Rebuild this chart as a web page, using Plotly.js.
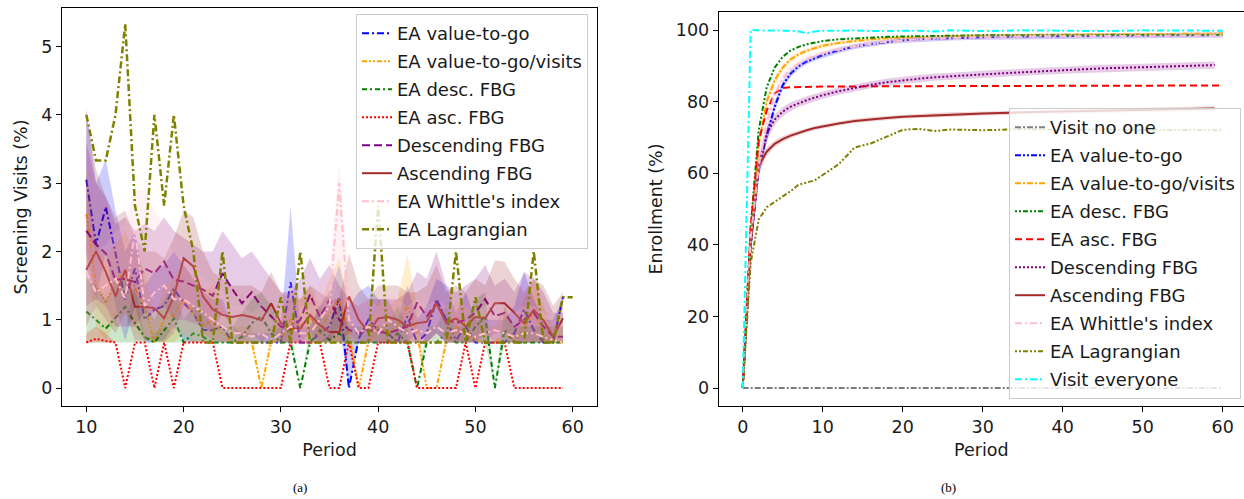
<!DOCTYPE html>
<html>
<head>
<meta charset="utf-8">
<script src="https://cdn.plot.ly/plotly-3.0.1.min.js"></script>
<style>html,body{margin:0;padding:0;background:#fff}#chart{width:1244px;height:499px}</style>
</head>
<body>
<div id="chart"></div>
<script>
// ---------- Panel (a): screening visits ----------
const periodsA = [10,11,12,13,14,15,16,17,18,19,20,21,22,23,24,25,26,27,28,29,30,31,32,33,34,35,36,37,38,39,40,41,42,43,44,45,46,47,48,49,50,51,52,53,54,55,56,57,58,59];
const periodsA60 = [10,11,12,13,14,15,16,17,18,19,20,21,22,23,24,25,26,27,28,29,30,31,32,33,34,35,36,37,38,39,40,41,42,43,44,45,46,47,48,49,50,51,52,53,54,55,56,57,58,59,60];

const vtgMean  = [3.05,2.1,2.65,1.95,1.3,1.75,1.0,1.15,1.2,1.45, 1.25,1.1,0.85,0.85,0.9,0.667,0.667,0.667,0.667,0.667, 0.667,1.55,0.667,0.667,0.8,0.9,1.33,0,0.72,1.0, 0.85,0.8,0.667,1.05,0.667,0.8,1.3,1.0,0.7,0.9, 0.667,0.667,0.667,0.667,0.8,1.15,0.85,0.667,0.667,1.33];
const vtgUpper = [4.1,3.0,3.35,2.6,2.0,2.3,1.5,1.7,1.8,2.0, 1.8,1.6,1.4,1.3,1.3,0.9,0.8,0.8,0.8,0.8, 0.9,2.65,0.9,0.9,1.2,1.4,1.8,1.2,1.4,1.5, 1.3,1.3,1.0,1.5,1.0,1.2,1.6,1.5,1.1,1.4, 1.0,1.0,1.0,1.0,1.2,1.7,1.3,1.0,1.0,1.33];
const vtgLower = [2.0,1.3,2.0,1.2,0.7,1.2,0.667,0.667,0.7,0.9, 0.7,0.667,0.667,0.667,0.667,0.667,0.667,0.667,0.667,0.667, 0.667,0.667,0.667,0.667,0.667,0.667,0.9,0,0.667,0.667, 0.667,0.667,0.667,0.667,0.667,0.667,0.8,0.667,0.667,0.667, 0.667,0.667,0.667,0.667,0.667,0.667,0.667,0.667,0.667,1.33];

const vtvMean  = [2.55,1.5,1.25,1.55,1.72,1.45,1.2,0.667,1.0,1.07, 1.3,1.1,0.9,1.0,0.8,0.667,0.667,0.667,0,0.667, 0.7,1.0,0.9,1.05,0.8,1.1,1.3,0.8,0,0.667, 0.9,0.8,0.9,1.2,0.8,0,0,0.667,0.9,0.8, 0.7,0.667,0.667,0.8,0.667,0.9,1.1,0.8,0.667,0.667];
const vtvUpper = [3.2,2.1,1.9,2.1,2.3,2.0,1.7,1.0,1.5,1.6, 1.8,1.6,1.4,1.5,1.2,0.9,0.9,0.9,0,0.9, 1.0,1.5,1.3,1.5,1.2,1.6,1.9,1.2,0,0.9, 1.3,1.2,1.3,1.95,1.2,0,0,0.9,1.3,1.2, 1.0,0.9,0.9,1.2,0.9,1.3,1.6,1.2,0.9,0.9];
const vtvLower = [1.9,0.9,0.7,1.0,1.1,0.9,0.7,0.667,0.667,0.667, 0.8,0.667,0.667,0.667,0.667,0.667,0.667,0.667,0,0.667, 0.667,0.667,0.667,0.667,0.667,0.667,0.667,0.667,0,0.667, 0.667,0.667,0.667,0.667,0.667,0,0,0.667,0.667,0.667, 0.667,0.667,0.667,0.667,0.667,0.667,0.667,0.667,0.667,0.667];

const eadMean  = [1.12,1.0,0.87,1.03,1.19,0.95,0.75,0.667,0.85,1.02, 0.667,0.8,0.75,0.667,0.667,0.667,0.75,0.95,1.05,0.8, 0.667,0.667,0,0.667,0.85,0.7,0.8,0.667,0.667,0.667, 0.667,0.667,0.8,0.667,0,0.667,0.667,0.8,0.667,0.667, 0.9,1.05,0,0.85,0.667,0.667,0.667,0.667,0.667,0.667];
const eadUpper = [1.6,1.5,1.3,1.5,1.6,1.4,1.2,1.0,1.3,1.5, 1.0,1.2,1.1,0.9,0.9,0.9,1.1,1.3,1.4,1.2, 0.9,0.9,0,0.9,1.2,1.0,1.2,0.9,0.9,0.9, 0.9,0.9,1.2,0.9,0,0.9,0.9,1.2,0.9,0.9, 1.3,1.4,0,1.2,0.9,0.9,0.9,0.9,0.9,0.9];
const eadLower = [0.667,0.667,0.667,0.667,0.667,0.667,0.667,0.667,0.667,0.667, 0.667,0.667,0.667,0.667,0.667,0.667,0.667,0.667,0.667,0.667, 0.667,0.667,0,0.667,0.667,0.667,0.667,0.667,0.667,0.667, 0.667,0.667,0.667,0.667,0,0.667,0.667,0.667,0.667,0.667, 0.667,0.667,0,0.667,0.667,0.667,0.667,0.667,0.667,0.667];

const eaaMean  = [0.667,0.72,0.69,0.667,0,0.667,0.667,0,0.667,0, 0.667,0.667,0.667,0.667,0,0,0,0,0,0, 0,0.667,0.667,0.667,0.667,0,0,0.667,0,0, 0.667,0.667,0.667,0.667,0,0,0,0,0,0.667, 0,0.667,0.667,0.667,0,0,0,0,0,0];
const eaaUpper = [0.8,0.9,0.8,0.667,0,0.667,0.667,0,0.667,0, 0.667,0.667,0.667,0.667,0,0,0,0,0,0, 0,0.667,0.667,0.667,0.667,0,0,0.667,0,0, 0.667,0.667,0.667,0.667,0,0,0,0,0,0.667, 0,0.667,0.667,0.667,0,0,0,0,0,0];
const eaaLower = [0.667,0.667,0.667,0.667,0,0.667,0.667,0,0.667,0, 0.667,0.667,0.667,0.667,0,0,0,0,0,0, 0,0.667,0.667,0.667,0.667,0,0,0.667,0,0, 0.667,0.667,0.667,0.667,0,0,0,0,0,0.667, 0,0.667,0.667,0.667,0,0,0,0,0,0];

const descMean  = [2.3,2.1,1.97,1.58,1.6,1.55,1.75,1.68,1.85,1.58, 1.56,1.5,1.44,1.35,1.68,1.45,1.24,1.4,1.19,1.05, 0.9,0.85,1.0,1.37,1.04,1.29,1.0,0.85,0.8,0.85, 0.82,0.8,0.85,0.9,1.25,1.05,1.25,1.0,0.95,1.0, 1.1,1.3,1.05,1.1,0.9,1.0,1.1,0.9,0.75,0.75];
const descUpper = [3.6,3.0,2.8,2.4,2.5,2.3,2.4,2.3,2.5,2.3, 2.2,2.1,2.0,2.0,2.3,2.1,1.9,2.0,1.8,1.6, 1.4,1.4,1.6,1.9,1.6,1.8,1.5,1.3,1.2,1.3, 1.3,1.3,1.3,1.4,1.7,1.6,2.0,1.5,1.4,1.5, 1.6,1.8,1.5,1.6,1.4,1.7,1.6,1.4,1.1,1.1];
const descLower = [1.2,1.3,1.2,0.9,0.9,0.9,1.1,1.1,1.2,1.0, 1.0,0.95,0.9,0.8,1.1,0.9,0.7,0.8,0.667,0.667, 0.667,0.667,0.667,0.8,0.667,0.7,0.667,0.667,0.667,0.667, 0.667,0.667,0.667,0.667,0.8,0.667,0.8,0.667,0.667,0.667, 0.667,0.8,0.667,0.667,0.667,0.667,0.667,0.667,0.667,0.667];

const ascMean  = [1.73,2.0,1.7,1.34,1.73,1.19,1.19,1.17,1.02,1.34, 1.9,1.78,1.34,1.15,1.07,1.04,1.07,1.04,0.99,1.24, 0.95,0.87,0.87,1.07,0.92,0.82,0.82,1.34,1.0,0.82, 1.02,1.04,1.0,0.9,0.95,0.97,1.24,0.95,1.02,0.9, 1.04,1.02,1.24,1.24,1.1,0.95,1.14,0.99,0.75,1.02];
const ascUpper = [4.0,3.2,2.8,2.5,2.6,2.2,2.0,2.0,1.9,2.2, 2.6,2.5,2.0,1.7,1.6,1.5,1.5,1.5,1.4,1.7, 1.4,1.3,1.3,1.5,1.4,1.3,1.3,1.97,1.5,1.3, 1.5,1.5,1.5,1.4,1.4,1.5,1.8,1.4,1.5,1.4, 1.6,1.5,1.87,1.85,1.6,1.4,1.6,1.5,1.2,1.4];
const ascLower = [0.9,1.2,1.0,0.8,1.1,0.7,0.7,0.7,0.667,0.8, 1.2,1.1,0.8,0.7,0.667,0.667,0.667,0.667,0.667,0.8, 0.667,0.667,0.667,0.667,0.667,0.667,0.667,0.8,0.667,0.667, 0.667,0.667,0.667,0.667,0.667,0.667,0.8,0.667,0.667,0.667, 0.667,0.667,0.8,0.8,0.667,0.667,0.667,0.667,0.667,0.667];

const whitMean  = [1.7,1.4,1.5,1.6,1.3,2.3,1.2,1.4,1.5,1.3, 1.3,1.2,1.1,1.0,0.9,0.8,0.8,0.75,0.8,0.7, 0.8,0.9,0.8,0.8,1.0,1.2,3.0,1.0,0.8,0.9, 0.8,1.0,0.9,0.8,0.85,0.8,0.9,0.8,0.85,0.8, 0.75,0.8,0.85,0.8,0.75,0.8,0.8,0.75,0.7,0.667];
const whitUpper = [2.3,2.0,2.1,2.3,2.4,2.9,2.9,2.6,2.4,2.0, 1.9,1.8,1.6,1.5,1.4,1.2,1.2,1.1,1.2,1.0, 1.2,1.6,1.2,1.2,1.5,1.7,3.3,1.5,1.2,1.3, 1.2,1.4,1.3,1.2,1.3,1.2,1.3,1.2,1.3,1.2, 1.1,1.2,1.3,1.2,1.1,1.2,1.2,1.1,1.0,0.9];
const whitLower = [1.1,0.9,0.9,1.0,0.8,1.6,0.7,0.8,0.9,0.8, 0.8,0.7,0.667,0.667,0.667,0.667,0.667,0.667,0.667,0.667, 0.667,0.667,0.667,0.667,0.667,0.8,1.8,0.667,0.667,0.667, 0.667,0.667,0.667,0.667,0.667,0.667,0.667,0.667,0.667,0.667, 0.667,0.667,0.667,0.667,0.667,0.667,0.667,0.667,0.667,0.667];

const lagMean = [4.0,3.33,3.33,4.0,5.33,2.67,2.0,4.0,2.67,4.0, 2.67,2.0,0.667,0.667,2.0,0.667,0.667,0.667,0.667,0.667, 1.33,0.667,2.0,0.667,0.667,0.667,0.667,0.667,0.667,0.667, 2.67,0.667,0.667,0.667,0.667,0.667,0.667,0.667,2.0,0.667, 1.33,0.667,0.667,0.667,0.667,0.667,2.0,0.667,0.667,1.33,1.33];

// ---------- Panel (b): enrollment ----------
const periodsB   = [0,1,2,3,4,5,6,7,8,9,10,12,14,16,18,20,22,24,26,28,30,35,40,45,50,55,60];
const periodsB59 = [0,1,2,3,4,5,6,7,8,9,10,12,14,16,18,20,22,24,26,28,30,35,40,45,50,55,59];

const noneEnr  = [0,0,0,0,0,0,0,0,0,0,0,0,0,0,0,0,0,0,0,0,0,0,0,0,0,0,0];
const vtgEnr   = [0,40,61,70.5,78.6,84.6,87.9,89.9,91.2,92.2,93.0,94.3,95.4,96.1,96.7,97.1,97.4,97.6,97.8,97.9,98.0,98.2,98.3,98.4,98.5,98.5,98.6];
const vtgSpr   = [0,3,2.5,2,1.5,1.2,1.0,0.9,0.8,0.8,0.8,0.8,0.7,0.7,0.7,0.7,0.7,0.7,0.7,0.7,0.7,0.7,0.7,0.7,0.7,0.7,0.7];
const vtvEnr   = [0,42,68,80,86,89.5,91.8,93.2,94.2,95.0,95.6,96.4,97.0,97.4,97.7,97.9,98.1,98.2,98.3,98.4,98.5,98.6,98.7,98.8,98.9,99.0,99.0];
const vtvSpr   = [0,2.5,2,1.5,1.2,1.0,0.8,0.7,0.6,0.6,0.6,0.5,0.5,0.5,0.5,0.5,0.4,0.4,0.4,0.4,0.4,0.4,0.4,0.4,0.4,0.4,0.4];
const eadEnr   = [0,45,72,84,89.5,92.5,94.3,95.3,96.0,96.5,96.9,97.4,97.7,97.9,98.1,98.2,98.3,98.4,98.4,98.5,98.5,98.5,98.6,98.6,98.6,98.6,98.6];
const eaaEnr   = [0,45,69,77.5,82.3,83.8,84.0,84.1,84.1,84.2,84.2,84.2,84.3,84.3,84.3,84.3,84.3,84.3,84.4,84.4,84.4,84.4,84.4,84.5,84.5,84.5,84.5];
const descEnr  = [0,40,62,71,75,77.2,78.6,79.6,80.4,81.1,81.8,82.9,83.9,84.7,85.4,86.0,86.4,86.8,87.1,87.4,87.6,88.2,88.8,89.3,89.6,89.9,90.2];
const descSpr  = [0,3,2.5,2,1.5,1.3,1.2,1.1,1.1,1.0,1.0,1.0,1.0,1.0,1.0,1.0,1.0,1.0,1.0,1.0,1.0,1.0,1.0,1.0,1.0,1.0,1.0];
const ascEnr   = [0,40,62,66,68.2,69.5,70.5,71.3,72.0,72.6,73.1,73.9,74.6,75.1,75.4,75.8,76.0,76.2,76.4,76.5,76.7,77.0,77.2,77.4,77.6,77.8,78.1];
const ascSpr   = [0,3,2,1.2,0.9,0.8,0.7,0.6,0.6,0.6,0.6,0.6,0.6,0.6,0.6,0.6,0.6,0.6,0.6,0.6,0.6,0.6,0.6,0.6,0.6,0.6,0.6];
const whitEnr  = [0,42,62,74,82,86.5,89.0,90.7,91.9,92.8,93.5,94.6,95.5,96.2,96.7,97.1,97.4,97.6,97.8,97.9,98.0,98.2,98.3,98.4,98.4,98.5,98.5];
const whitSpr  = [0,3,2.5,2,1.6,1.3,1.1,1.0,0.9,0.8,0.8,0.8,0.7,0.7,0.7,0.7,0.7,0.7,0.7,0.7,0.7,0.7,0.7,0.7,0.7,0.7,0.7];
const lagEnr   = [0,35,47,50.5,52,53.5,55,56.8,57.5,58,59.5,62.5,67.2,68.3,70.2,72.1,72.4,71.8,72.2,72.1,72.0,72.3,72.1,72.2,72.0,72.1,72.0];
const allEnr   = [0,100,99.9,99.9,99.9,99.8,99.8,99.6,99.1,99.6,99.8,99.8,99.9,99.7,99.8,99.9,99.8,99.6,99.9,99.8,99.7,99.9,99.8,99.7,99.9,99.8,99.8];

// ---------- helpers ----------
function rgba(hex, a) {
  const n = parseInt(hex.slice(1), 16);
  return 'rgba(' + ((n >> 16) & 255) + ',' + ((n >> 8) & 255) + ',' + (n & 255) + ',' + a + ')';
}
function band(xs, up, lo, color, xa, ya) {
  return {
    x: xs.concat(xs.slice().reverse()),
    y: up.concat(lo.slice().reverse()),
    xaxis: xa, yaxis: ya, type: 'scatter', mode: 'lines',
    fill: 'toself', fillcolor: rgba(color, 0.2), line: {width: 0},
    hoverinfo: 'skip', showlegend: false
  };
}
function line(xs, ys, name, color, dash, xa, ya, leg, width) {
  return {
    x: xs, y: ys, name: name, xaxis: xa, yaxis: ya, type: 'scatter', mode: 'lines',
    line: {color: color, dash: dash, width: width || 2},
    legend: leg, legendgroup: leg + name, showlegend: true
  };
}
function plusMinus(m, s, sign) { return m.map((v, i) => v + sign * s[i]); }

const C = {blue:'#0000ff', orange:'#ffa500', green:'#008000', red:'#ff0000', purple:'#800080',
           brown:'#a52a2a', pink:'#ffc0cb', olive:'#808000', cyan:'#00ffff', gray:'#808080'};

const traces = [];
// Panel (a)
const seriesA = [
  ['EA value-to-go', vtgMean, vtgUpper, vtgLower, C.blue, '7px,3px,2px,3px'],
  ['EA value-to-go/visits', vtvMean, vtvUpper, vtvLower, C.orange, '5px,2px,2px,2px,2px,2px'],
  ['EA desc. FBG', eadMean, eadUpper, eadLower, C.green, '5px,3px,2px,3px'],
  ['EA asc. FBG', eaaMean, eaaUpper, eaaLower, C.red, '2px,2px'],
  ['Descending FBG', descMean, descUpper, descLower, C.purple, '8px,4px'],
  ['Ascending FBG', ascMean, ascUpper, ascLower, C.brown, 'solid'],
  ["EA Whittle's index", whitMean, whitUpper, whitLower, C.pink, '7px,3px,2px,3px']
];
seriesA.forEach(s => {
  traces.push(band(periodsA, s[2], s[3], s[4], 'x', 'y'));
  traces.push(line(periodsA, s[1], s[0], s[4], s[5], 'x', 'y', 'legend'));
});
traces.push(line(periodsA60, lagMean, 'EA Lagrangian', C.olive, '7px,3px,2px,3px', 'x', 'y', 'legend', 2.5));

// Panel (b)
traces.push(line(periodsB, noneEnr, 'Visit no one', C.gray, '6px,2px,2px,2px', 'x2', 'y2', 'legend2'));
const seriesB = [
  ['EA value-to-go', periodsB, vtgEnr, vtgSpr, C.blue, '6px,2px,2px,2px,2px,2px'],
  ['EA value-to-go/visits', periodsB, vtvEnr, vtvSpr, C.orange, '6px,2px,2px,2px'],
  ['EA desc. FBG', periodsB, eadEnr, null, C.green, '2px,2px,2px,2px,5px,2px'],
  ['EA asc. FBG', periodsB, eaaEnr, null, C.red, '7px,4px'],
  ['Descending FBG', periodsB59, descEnr, descSpr, C.purple, '2px,2px'],
  ['Ascending FBG', periodsB59, ascEnr, ascSpr, C.brown, 'solid'],
  ["EA Whittle's index", periodsB, whitEnr, whitSpr, C.pink, '7px,3px,2px,3px'],
  ['EA Lagrangian', periodsB, lagEnr, null, C.olive, '2px,2px,2px,2px,5px,2px'],
  ['Visit everyone', periodsB, allEnr, null, C.cyan, '7px,3px,2px,3px']
];
seriesB.forEach(s => {
  if (s[3]) traces.push(band(s[1], plusMinus(s[2], s[3], 1), plusMinus(s[2], s[3], -1), s[4], 'x2', 'y2'));
  traces.push(line(s[1], s[2], s[0], s[4], s[5], 'x2', 'y2', 'legend2'));
});

const W = 1244, H = 499;
const font = {family: 'DejaVu Sans', size: 18, color: '#1a1a1a'};
const tfont = {family: 'DejaVu Sans', size: 17.5, color: '#1a1a1a'};
const axisCommon = {
  showline: true, linecolor: '#000', linewidth: 1, mirror: true,
  ticks: 'outside', ticklen: 5, tickcolor: '#000', tickwidth: 1,
  showgrid: false, zeroline: false, tickfont: tfont
};
const layout = {
  width: W, height: H,
  margin: {l: 0, r: 0, t: 0, b: 0},
  paper_bgcolor: '#fff', plot_bgcolor: '#fff',
  font: font,
  xaxis: Object.assign({}, axisCommon, {
    domain: [62 / W, 597 / W], range: [7.5, 62.5], tickvals: [10, 20, 30, 40, 50, 60],
    title: {text: 'Period', font: tfont, standoff: 7}, anchor: 'y'
  }),
  yaxis: Object.assign({}, axisCommon, {
    domain: [(H - 406) / H, (H - 8) / H], range: [-0.2635, 5.563], tickvals: [0, 1, 2, 3, 4, 5],
    title: {text: 'Screening Visits (%)', font: tfont, standoff: 9}, anchor: 'x'
  }),
  xaxis2: Object.assign({}, axisCommon, {
    domain: [718.7 / W, 1], range: [-3, 62.66], tickvals: [0, 10, 20, 30, 40, 50, 60],
    title: {text: 'Period', font: tfont, standoff: 7}, anchor: 'y2'
  }),
  yaxis2: Object.assign({}, axisCommon, {
    domain: [(H - 405.9) / H, (H - 12.1) / H], range: [-5, 105], tickvals: [0, 20, 40, 60, 80, 100],
    title: {text: 'Enrollment (%)', font: tfont, standoff: 8}, anchor: 'x2'
  }),
  legend: {
    x: 356 / W, y: 1 - 14 / H, xanchor: 'left', yanchor: 'top',
    bgcolor: 'rgba(255,255,255,0.8)', bordercolor: '#cccccc', borderwidth: 1,
    font: font, traceorder: 'grouped', tracegroupgap: 1.6
  },
  legend2: {
    x: 1009 / W, y: 1 - 108 / H, xanchor: 'left', yanchor: 'top',
    bgcolor: 'rgba(255,255,255,0.8)', bordercolor: '#cccccc', borderwidth: 1,
    font: font, traceorder: 'grouped', tracegroupgap: 1.6
  },
  annotations: [
    {text: '(a)', xref: 'paper', yref: 'paper', x: 300 / W, y: 1 - 487 / H, showarrow: false,
     font: {family: 'Liberation Serif', size: 13, color: '#000'}, xanchor: 'center', yanchor: 'middle'},
    {text: '(b)', xref: 'paper', yref: 'paper', x: 948 / W, y: 1 - 487 / H, showarrow: false,
     font: {family: 'Liberation Serif', size: 13, color: '#000'}, xanchor: 'center', yanchor: 'middle'}
  ],
  showlegend: true
};

Plotly.newPlot('chart', traces, layout, {staticPlot: true, displayModeBar: false});
</script>
</body>
</html>
